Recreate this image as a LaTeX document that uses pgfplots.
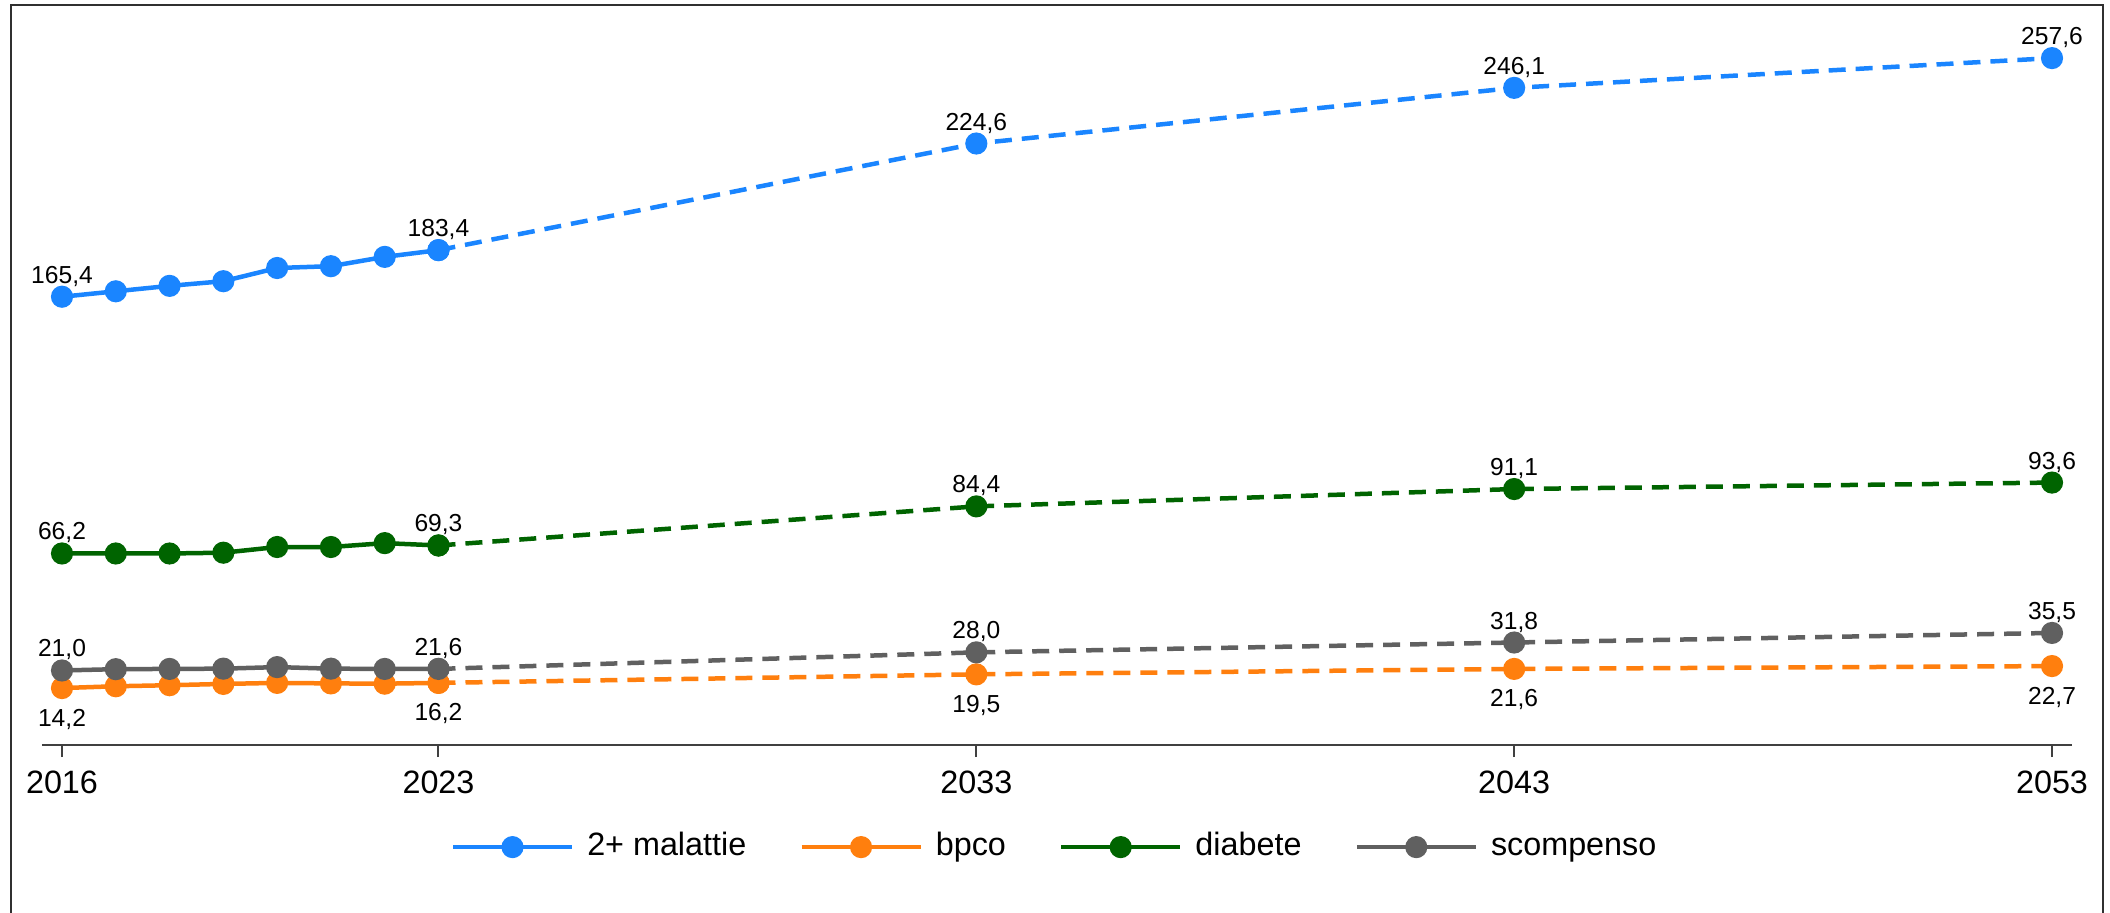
\documentclass[border=0pt]{standalone}
\usepackage{pgfplots}
\pgfplotsset{compat=1.18}
\usepackage{fontspec}
\setmainfont{Liberation Sans}
\definecolor{cblue}{HTML}{1A85FF}
\definecolor{corange}{HTML}{FF7F0E}
\definecolor{cgreen}{HTML}{006400}
\definecolor{cgray}{HTML}{606060}
\definecolor{axgray}{HTML}{404040}
\definecolor{framec}{HTML}{303030}
\newcommand\ticksize{\fontsize{9.2pt}{11pt}\selectfont}
\newcommand\labsize{\fontsize{7pt}{8pt}\selectfont}
\begin{document}
\begin{tikzpicture}
\useasboundingbox (0,0) rectangle (211mm,-91.2mm);
\begin{axis}[
  at={(4.2mm,-74.5mm)}, anchor=south west,
  scale only axis, width=203mm, height=71.9mm,
  xmin=2015.628, xmax=2053.372, ymin=-7.8, ymax=270,
  axis x line=bottom, axis y line=none,
  axis line style={-, draw=axgray, line width=0.2mm},
  xtick={2016,2023,2033,2043,2053}, xticklabels={2016,2023,2033,2043,2053},
  tick align=outside, major tick length=1.2mm,
  tick style={draw=axgray, line width=0.2mm},
  xticklabel style={font=\ticksize, anchor=base, yshift=-3.6mm},
  clip=false,
  every axis plot/.append style={line width=0.45mm},
  nodes near coords, point meta=explicit symbolic,
  every node near coord/.append style={font=\labsize, inner sep=0pt, text=black},
  lababove/.style={every node near coord/.append style={anchor=base, yshift=1.35mm}},
  labbelow/.style={every node near coord/.append style={anchor=base, yshift=-3.8mm}},
  legend columns=4,
  legend style={at={(0.4983,-0.142)}, anchor=center, draw=none, fill=none,
    font=\ticksize, inner sep=0pt, nodes={inner sep=0pt, text height=0.72em, text depth=0.22em},
    /tikz/every odd column/.append style={column sep=1.3mm},
    /tikz/every even column/.append style={column sep=5.3mm}},
  legend image code/.code={\draw[mark repeat=2,mark phase=2,#1] plot coordinates {(0mm,0mm) (5.95mm,0mm) (11.9mm,0mm)};},
]
% 2+ malattie
\addplot[cblue, lababove, mark=*, mark size=0.88mm, mark options={solid, fill=cblue}] coordinates {
 (2016,165.4) [165,4] (2017,167.5) [] (2018,169.6) [] (2019,171.4) [] (2020,176.5) [] (2021,177.2) [] (2022,180.8) [] (2023,183.4) [183,4]};
\addlegendentry{2+ malattie}
% bpco
\addplot[corange, labbelow, mark=*, mark size=0.88mm, mark options={solid, fill=corange}] coordinates {
 (2016,14.2) [14,2] (2017,14.9) [] (2018,15.3) [] (2019,15.8) [] (2020,16.2) [] (2021,16.0) [] (2022,15.9) [] (2023,16.2) [16,2]};
\addlegendentry{bpco}
% diabete
\addplot[cgreen, lababove, mark=*, mark size=0.88mm, mark options={solid, fill=cgreen}] coordinates {
 (2016,66.2) [66,2] (2017,66.2) [] (2018,66.2) [] (2019,66.5) [] (2020,68.7) [] (2021,68.7) [] (2022,70.2) [] (2023,69.3) [69,3]};
\addlegendentry{diabete}
% scompenso
\addplot[cgray, lababove, mark=*, mark size=0.88mm, mark options={solid, fill=cgray}] coordinates {
 (2016,21.0) [21,0] (2017,21.5) [] (2018,21.6) [] (2019,21.7) [] (2020,22.3) [] (2021,21.7) [] (2022,21.6) [] (2023,21.6) [21,6]};
\addlegendentry{scompenso}
% projections
\addplot[cblue, lababove, dash pattern=on 1.7mm off 1.0mm, mark=*, mark size=0.88mm, mark options={solid, fill=cblue}, forget plot] coordinates {
 (2023,183.4) [] (2033,224.6) [224,6] (2043,246.1) [246,1] (2053,257.6) [257,6]};
\addplot[corange, labbelow, dash pattern=on 1.7mm off 1.0mm, mark=*, mark size=0.88mm, mark options={solid, fill=corange}, forget plot] coordinates {
 (2023,16.2) [] (2033,19.5) [19,5] (2043,21.6) [21,6] (2053,22.7) [22,7]};
\addplot[cgreen, lababove, dash pattern=on 1.7mm off 1.0mm, mark=*, mark size=0.88mm, mark options={solid, fill=cgreen}, forget plot] coordinates {
 (2023,69.3) [] (2033,84.4) [84,4] (2043,91.1) [91,1] (2053,93.6) [93,6]};
\addplot[cgray, lababove, dash pattern=on 1.7mm off 1.0mm, mark=*, mark size=0.88mm, mark options={solid, fill=cgray}, forget plot] coordinates {
 (2023,21.6) [] (2033,28.0) [28,0] (2043,31.8) [31,8] (2053,35.5) [35,5]};
\end{axis}
\draw[line width=0.15mm, framec] (1.1mm,-100mm) -- (1.1mm,-0.5mm) -- (210.3mm,-0.5mm) -- (210.3mm,-100mm);
\end{tikzpicture}
\end{document}
